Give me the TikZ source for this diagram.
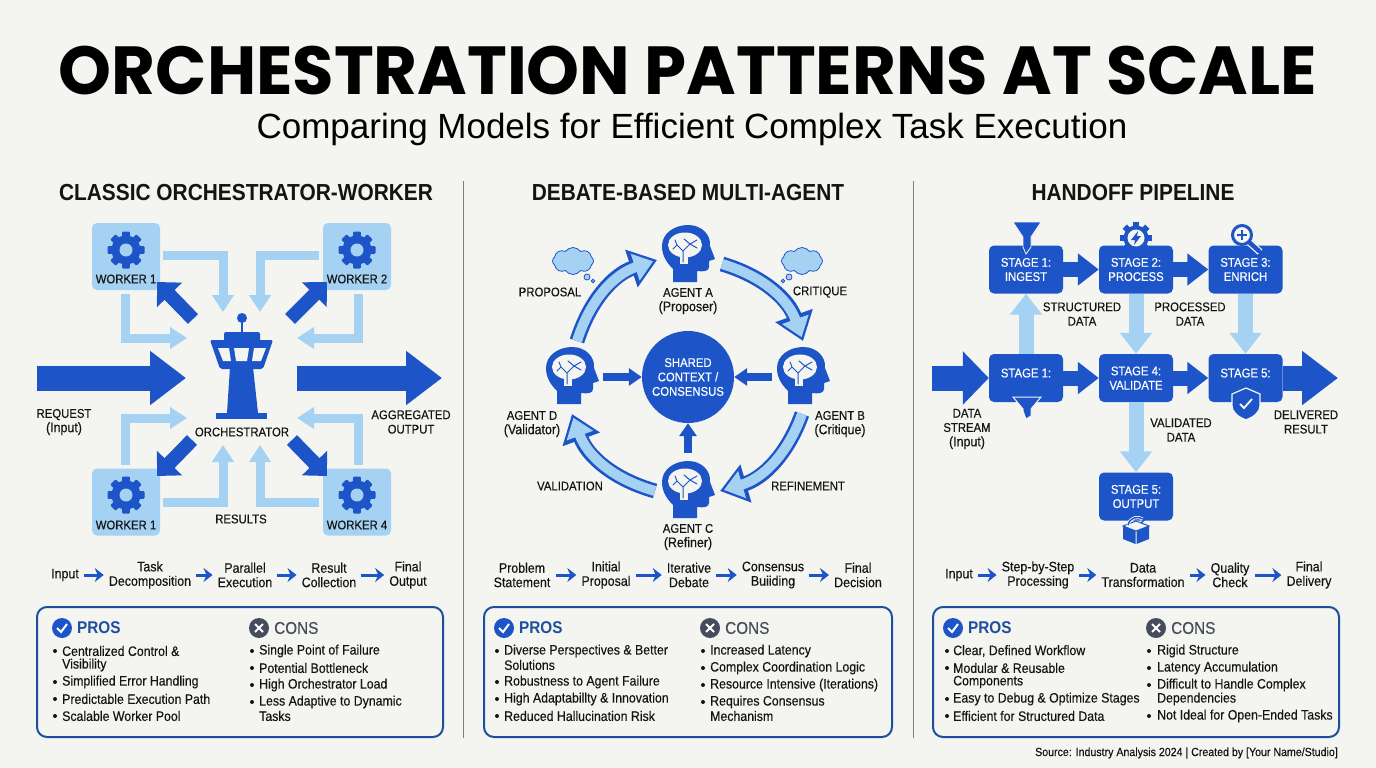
\documentclass[tikz,border=0pt]{standalone}
\usepackage{fontspec}
\setmainfont[FakeStretch=0.9]{Liberation Sans}
\newfontfamily\titlefont[FakeStretch=0.99]{Poppins}
\newfontfamily\plainfont{Liberation Sans}
\newfontfamily\bodyfont[FakeStretch=0.9,FakeBold=0.3]{Liberation Sans}
\usetikzlibrary{arrows.meta,shapes.symbols}

\definecolor{paper}{HTML}{F4F4F0}
\definecolor{royal}{HTML}{1D55C8}
\definecolor{navy}{HTML}{1F4E9E}
\definecolor{sky}{HTML}{A5D2F2}
\definecolor{ink}{HTML}{141414}
\definecolor{slate}{HTML}{454C5C}

\newcommand{\cp}[1]{{\fontsize{12.6}{14.4}\selectfont #1}}

\tikzset{
	lbl/.style={font=\bodyfont\fontsize{13.8}{14.4}\selectfont,text=ink,align=center,inner sep=0pt},
	capt/.style={lbl,font=\bodyfont\fontsize{12.6}{14.4}\selectfont},
	head/.style={font=\fontsize{23.2}{24}\selectfont\bfseries,text=ink,inner sep=0pt},
	item/.style={font=\bodyfont\fontsize{13.7}{14}\selectfont,text=ink,anchor=west,inner sep=0pt},
	worker/.style={fill=sky,rounded corners=5pt,minimum width=68pt,minimum height=67pt,inner sep=0pt},
	stage/.style={fill=royal,rounded corners=5pt,minimum width=74pt,minimum height=48pt,inner sep=0pt,text=white,align=center,font=\bodyfont\fontsize{12.6}{14.2}\selectfont},
	panel/.style={draw=navy,line width=2pt,rounded corners=10pt,minimum width=406pt,minimum height=130pt,inner sep=0pt},
	elbow/.style={draw=sky,line width=9pt,-{Triangle[length=17pt,width=21pt]}},
	diag/.style={draw=royal,line width=14pt,-{Triangle[length=18pt,width=34pt]}},
	big/.style={draw=royal,line width=25pt,-{Triangle[length=36pt,width=52pt]}},
	hop/.style={draw=royal,line width=15pt,-{Triangle[length=21pt,width=31pt]}},
	drop/.style={draw=sky,line width=15pt,-{Triangle[length=21pt,width=31pt]}},
	small/.style={draw=royal,line width=8pt,-{Triangle[length=13pt,width=17pt]}},
	tiny/.style={draw=royal,line width=3pt,-{Stealth[length=9pt,width=14pt,inset=3pt]}},
	ringdark/.style={draw=royal,line width=15pt,-{Triangle[length=27pt,width=38pt]}},
	ringfill/.style={draw=sky,line width=10pt,shorten >=4pt,-{Triangle[length=19pt,width=27pt]}},
	thought/.style={cloud,cloud puffs=8,cloud puff arc=110,aspect=1.6,draw=royal,fill=sky,line width=.8pt,minimum width=41pt,minimum height=27pt,inner sep=0pt},
	gearicon/.pic={
		\fill[royal] (0,0) circle (14.5pt);
		\foreach \a in {0,45,...,315}
			\fill[royal,rotate=\a,rounded corners=1pt] (-3.8,-18.5) rectangle (3.8,-12);
		\fill[sky] (0,0) circle (6.5pt);
	},
	headicon/.pic={
		\fill[royal] (-15,29) -- (-15,16) .. controls (-22,9) and (-26,2) .. (-26,-7)
			.. controls (-26,-20) and (-13,-28) .. (0,-28)
			.. controls (14,-28) and (23,-18) .. (22,-7) -- (27,6)
			-- (21,8) -- (21,14) .. controls (21,18) and (16,19) .. (9,18) -- (9,29) -- cycle;
		\fill[paper] (-3,-8) ellipse (17pt and 12.5pt);
		\fill[paper] (-8,0) rectangle (0,11);
		\draw[royal,line width=1pt,line cap=round]
			(-5,9) -- (-5,-2) -- (-11,-8) (-5,-2) -- (2,-9) -- (-4,-14) (2,-9) -- (9,-5) (2,-9) -- (9,-13)
			(-11,-8) -- (-13,-13) (-11,-8) -- (-15,-4);
	},
}

\begin{document}
\begin{tikzpicture}[x=1pt,y=-1pt]
	\useasboundingbox[fill=paper] (0,0) rectangle (1376,768);

	% title block
	\node[inner sep=0pt,text height=48pt,text depth=0pt] (title) at (688,70) {\titlefont\fontsize{68}{70}\selectfont\bfseries ORCHESTRATION PATTERNS AT SCALE};
	\node[inner sep=0pt,text height=25pt,text depth=8pt] (subtitle) at (692,129.5) {\plainfont\fontsize{35}{37}\selectfont Comparing Models for Efficient Complex Task Execution};
	\node[head] (headA) at (246,193) {CLASSIC ORCHESTRATOR-WORKER};
	\node[head] (headB) at (688,193) {DEBATE-BASED MULTI-AGENT};
	\node[head] (headC) at (1133,193) {HANDOFF PIPELINE};

	\coordinate (divAt) at (463,181);
	\coordinate (divAb) at (463,738);
	\coordinate (divBt) at (913,181);
	\coordinate (divBb) at (913,738);
	\draw[gray,line width=1pt] (divAt) -- (divAb);
	\draw[gray,line width=1pt] (divBt) -- (divBb);

	% left column
	\node[worker] (w1) at (126,256.5) {};
	\node[worker] (w2) at (357,256.5) {};
	\node[worker] (w3) at (126,502) {};
	\node[worker] (w4) at (357,502) {};
	\pic at (126,250) {gearicon};
	\pic at (357,250) {gearicon};
	\pic at (126,495) {gearicon};
	\pic at (357,495) {gearicon};
	\node[capt] (w1t) at (126,279) {WORKER 1};
	\node[capt] (w2t) at (357,279) {WORKER 2};
	\node[capt] (w3t) at (126,525) {WORKER 1};
	\node[capt] (w4t) at (357,525) {WORKER 4};

	% tower
	\fill[royal] (242,318) circle (5pt);
	\draw[royal,line width=2pt] (242,318) -- (242,334);
	\fill[royal,rounded corners=2pt] (224,332) rectangle (260,342);
	\fill[royal,rounded corners=2pt] (210,340) -- (273,340) -- (263,369) -- (220,369) -- cycle;
	\fill[royal] (230,367) -- (253,367) -- (258,413) -- (227,413) -- cycle;
	\fill[royal] (216,413) rectangle (267,419);
	\fill[paper] (218,348) -- (229,348) -- (231,361) -- (223,361) -- cycle;
	\fill[paper] (234,348) -- (249,348) -- (247,361) -- (236,361) -- cycle;
	\fill[paper] (254,348) -- (266,348) -- (261,361) -- (252,361) -- cycle;
	\node[capt] (orch) at (242,432) {ORCHESTRATOR};

	\coordinate (reqs) at (37,378);
	\coordinate (reqe) at (186,378);
	\coordinate (outs) at (297,378);
	\coordinate (oute) at (442,378);
	\draw[big] (reqs) -- (reqe);
	\draw[big] (outs) -- (oute);
	\node[lbl] (req) at (64,422) {\cp{REQUEST}\\(Input)};
	\node[capt] (agg) at (411,422) {AGGREGATED\\OUTPUT};
	\node[capt] (res) at (241,519) {RESULTS};

	\coordinate (o1) at (193,319);
	\coordinate (o2) at (290,319);
	\coordinate (o3) at (192,440);
	\coordinate (o4) at (292,440);
	\coordinate (t1) at (157,282);
	\coordinate (t2) at (327,282);
	\coordinate (t3) at (157,476);
	\coordinate (t4) at (327,476);
	\draw[diag] (o1) -- (t1);
	\draw[diag] (o2) -- (t2);
	\draw[diag] (o3) -- (t3);
	\draw[diag] (o4) -- (t4);

	\foreach \sx/\sy/\cx/\cy/\ex/\ey in {
		163/255/223/255/223/312, 319/255/260/255/260/312,
		163/502/223/502/223/445, 319/502/260/502/260/445,
		125/294/125/338/187/338, 358/294/358/338/297/338,
		125/465/125/418/187/418, 358/465/358/418/297/418}
		\draw[elbow] (\sx,\sy) -- (\cx,\cy) -- (\ex,\ey);

	% middle column
	\node[circle,fill=royal,minimum size=92pt,inner sep=0pt,text=white,align=center,font=\bodyfont\fontsize{12.6}{14.4}\selectfont] (hub) at (688,377) {SHARED\\CONTEXT /\\CONSENSUS};
	\pic at (688,253) {headicon};
	\pic at (803,375) {headicon};
	\pic at (688,489) {headicon};
	\pic at (572,375) {headicon};
	\node[lbl] (agA) at (688,301) {\cp{AGENT A}\\(Proposer)};
	\node[lbl] (agB) at (840,424) {\cp{AGENT B}\\(Critique)};
	\node[lbl] (agC) at (688,537) {\cp{AGENT C}\\(Refiner)};
	\node[lbl] (agD) at (532,424) {\cp{AGENT D}\\(Validator)};
	\node[capt] (prop) at (550,292) {PROPOSAL};
	\node[capt] (crit) at (820,292) {CRITIQUE};
	\node[capt] (vali) at (570,486) {VALIDATION};
	\node[capt] (refi) at (808,486) {REFINEMENT};

	\coordinate (ab1) at (722,264);
	\coordinate (ab2) at (803,341);
	\coordinate (bc1) at (802,414);
	\coordinate (bc2) at (720,491);
	\coordinate (cd1) at (655,491);
	\coordinate (cd2) at (572,414);
	\coordinate (da1) at (577,341);
	\coordinate (da2) at (657,260);
	\foreach \p/\q in {ab1/ab2,bc1/bc2,cd1/cd2,da1/da2} {
		\draw[ringdark] (\p) to[bend left=27] (\q);
		\draw[ringfill] (\p) to[bend left=27] (\q);
	}

	\coordinate (toHubD) at (603,377);
	\coordinate (toHubB) at (772,377);
	\coordinate (toHubC) at (688,453);
	\draw[small] (toHubD) -- (hub.west);
	\draw[small] (toHubB) -- (hub.east);
	\draw[small] (toHubC) -- (hub.south);

	\node[thought] (cloudL) at (573,261) {};
	\node[thought] (cloudR) at (802,261) {};
	\draw[royal,fill=sky,line width=.8pt] (587,277) circle (3pt) (593,281) circle (1.8pt);
	\draw[royal,fill=sky,line width=.8pt] (789,277) circle (3pt) (783,281) circle (1.8pt);

	% right column
	\node[stage] (s1) at (1026,269.5) {STAGE 1:\\INGEST};
	\node[stage] (s2) at (1136,269.5) {STAGE 2:\\PROCESS};
	\node[stage] (s3) at (1245.5,269.5) {STAGE 3:\\ENRICH};
	\node[stage,text depth=10pt] (s1b) at (1026,378) {STAGE 1:};
	\node[stage] (s4) at (1136,378) {STAGE 4:\\VALIDATE};
	\node[stage,text depth=10pt] (s5) at (1245.5,378) {STAGE 5:};
	\node[stage] (s6) at (1136,496.5) {STAGE 5:\\OUTPUT};

	\draw[hop] (s1) -- (s2);
	\draw[hop] (s2) -- (s3);
	\draw[hop] (s1b) -- (s4);
	\draw[hop] (s4) -- (s5);
	\draw[drop] (s1b) -- (s1);
	\draw[drop] (s2) -- (s4);
	\draw[drop] (s3) -- (s5);
	\draw[drop] (s4) -- (s6);

	\coordinate (ins) at (932,378);
	\coordinate (ous) at (1283,378);
	\coordinate (oue) at (1338,378);
	\draw[big,-{Triangle[length=26pt,width=52pt]}] (ins) -- (s1b);
	\draw[big] (ous) -- (oue);

	\node[capt] (sdata) at (1082,314) {STRUCTURED\\DATA};
	\node[capt] (pdata) at (1190,314) {PROCESSED\\DATA};
	\node[capt] (vdata) at (1181,430) {VALIDATED\\DATA};
	\node[lbl] (dstream) at (967,429) {\cp{DATA}\\\cp{STREAM}\\(Input)};
	\node[capt] (dres) at (1306,422) {DELIVERED\\RESULT};

	% small icons
	\filldraw[royal,draw=paper,line width=.8pt] (1013,222) -- (1041,222) -- (1031,237) -- (1031,247) -- (1026,254) -- (1023,247) -- (1023,237) -- cycle;
	\filldraw[royal,draw=paper,line width=1pt] (1013,397) -- (1041,397) -- (1031,409) -- (1031,416) -- (1026,419) -- (1023,411) -- (1023,409) -- cycle;
	\foreach \a in {0,45,...,315}
		\fill[royal,shift={(1136,238)},rotate=\a] (-3,-16) rectangle (3,-9);
	\fill[royal] (1136,238) circle (12.5pt);
	\fill[paper] (1136,238) circle (8.5pt);
	\fill[royal] (1138,231) -- (1131,240) -- (1135,240) -- (1134,245) -- (1141,236) -- (1137,236) -- cycle;
	\draw[paper,line width=7pt] (1250,243) -- (1260,252);
	\draw[royal,line width=3pt,fill=paper] (1242,235) circle (9.5pt);
	\draw[royal,line width=4.5pt,line cap=round] (1250,243) -- (1259,251);
	\draw[royal,line width=1.8pt] (1237,235) -- (1247,235) (1242,230) -- (1242,240);
	\filldraw[royal,draw=paper,line width=1.2pt] (1246,388) -- (1260,394) -- (1260,405) .. controls (1260,413) and (1253,417) .. (1246,420)
		.. controls (1239,417) and (1232,413) .. (1232,405) -- (1232,394) -- cycle;
	\draw[paper,line width=1.8pt] (1240,404) -- (1244,408) -- (1252,399);
	% opened box below the last stage
	\fill[royal] (1123,526) -- (1135.5,531) -- (1135.5,544) -- (1123,539) -- cycle;
	\fill[royal] (1149,526) -- (1136.5,531) -- (1136.5,544) -- (1149,539) -- cycle;
	\draw[royal,line width=1pt,fill=paper] (1123,526) -- (1136,521) -- (1149,526) -- (1136,531) -- cycle;
	\draw[paper,line width=3.2pt] (1128,525) .. controls (1130,517) and (1138,516) .. (1143,519);
	\draw[royal,line width=1.4pt] (1128,525) .. controls (1130,517) and (1138,516) .. (1143,519) (1140,515) -- (1146,518) -- (1141,523);

	% steps
	\node[lbl] (a1) at (65,575) {Input};
	\node[lbl] (a2) at (150,575) {Task\\Decomposition};
	\node[lbl] (a3) at (245,575) {Parallel\\Execution};
	\node[lbl] (a4) at (329,575) {Result\\Collection};
	\node[lbl] (a5) at (408,575) {Final\\Output};
	\node[lbl] (b1) at (522,575) {Problem\\Statement};
	\node[lbl] (b2) at (606,575) {Initial\\Proposal};
	\node[lbl] (b3) at (689,575) {Iterative\\Debate};
	\node[lbl] (b4) at (773,575) {Consensus\\Buiiding};
	\node[lbl] (b5) at (858,575) {Final\\Decision};
	\node[lbl] (c1) at (959,575) {Input};
	\node[lbl] (c2) at (1038,575) {Step-by-Step\\Processing};
	\node[lbl] (c3) at (1143,575) {Data\\Transformation};
	\node[lbl] (c4) at (1230,575) {Quality\\Check};
	\node[lbl] (c5) at (1309,575) {Final\\Delivery};
	\foreach \p/\q in {a1/a2,a2/a3,a3/a4,a4/a5,b1/b2,b2/b3,b3/b4,b4/b5,c1/c2,c2/c3,c3/c4,c4/c5}
		\draw[tiny,shorten <=5pt,shorten >=5pt] (\p) -- (\q);

	% panels
	\node[panel] (pa) at (240,672) {};
	\node[panel,minimum width=408pt] (pb) at (688,672) {};
	\node[panel] (pc) at (1136,672) {};

	\foreach \ox/\cx/\n in {62/259/a,504/710/b,953/1156/c} {
		\node[circle,fill=royal,minimum size=20pt,inner sep=0pt] (chk\n) at (\ox,628) {};
		\draw[white,line width=2pt] (\ox-5,628) -- (\ox-1,632) -- (\ox+5,624);
		\node[anchor=west,inner sep=0pt,text=navy,font=\fontsize{17}{18}\selectfont\bfseries] (pros\n) at (\ox+15,628) {PROS};
		\node[circle,fill=slate,minimum size=20pt,inner sep=0pt] (crs\n) at (\cx,628) {};
		\draw[white,line width=2pt] (\cx-4,624) -- (\cx+4,632) (\cx-4,632) -- (\cx+4,624);
		\node[anchor=west,inner sep=0pt,text=slate,font=\bodyfont\fontsize{17}{18}\selectfont] (cons\n) at (\cx+15,628) {CONS};
	}

	\foreach \x/\y/\t [count=\i] in {
		62/651/Centralized Control \&, 62/665/Visibility, 62/682/Simplified Error Handling,
		62/699/Predictable Execution Path, 62/716/Scalable Worker Pool,
		259/651/Single Point of Failure, 259/668/Potential Bottleneck, 259/685/High Orchestrator Load,
		259/702/Less Adaptive to Dynamic, 259/716/Tasks,
		504/651/Diverse Perspectives \& Better, 504/665/Solutions, 504/682/Robustness to Agent Failure,
		504/699/High Adaptabillty \& Innovation, 504/716/Reduced Hallucination Risk,
		710/651/Increased Latency, 710/668/Complex Coordination Logic, 710/685/Resource Intensive (Iterations),
		710/702/Requires Consensus, 710/716/Mechanism,
		953/651/{Clear, Defined Workflow}, 953/668/Modular \& Reusable, 953/682/Components,
		953/699/Easy to Debug \& Optimize Stages, 953/716/Efficient for Structured Data,
		1157/651/Rigid Structure, 1157/668/Latency Accumulation, 1157/685/Difficult to Handle Complex,
		1157/699/Dependencies, 1157/716/Not Ideal for Open-Ended Tasks}
		\node[item] (li\i) at (\x,\y) {\t};

	\foreach \x/\y in {55/651,55/682,55/699,55/716,252/651,252/668,252/685,252/702,
		497/651,497/682,497/699,497/716,703/651,703/668,703/685,703/702,
		947/651,947/668,947/699,947/716,1149/651,1149/668,1149/685,1149/716}
		\fill[ink] (\x,\y) circle (2pt);

	\node[anchor=east,inner sep=0pt,text=ink,font=\bodyfont\fontsize{11.8}{12}\selectfont] (src) at (1338,753) {Source: Industry Analysis 2024 | Created by [Your Name/Studio]};
\end{tikzpicture}
\end{document}
